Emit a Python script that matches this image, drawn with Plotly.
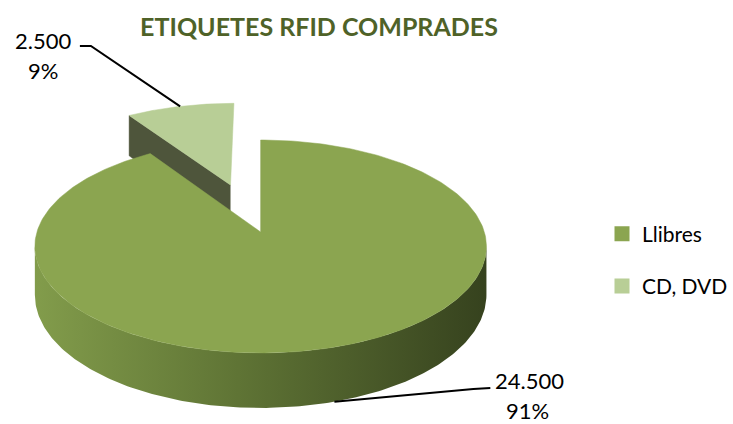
import numpy as np
import plotly.graph_objects as go

# ---- data ----
categories = ["Llibres", "CD, DVD"]
values = [24500, 2500]
explode = [0.0, 0.5]
top_colors = ["#8BA550", "#B8CE96"]
cut_colors = ["#3F4A25", "#4E553B"]
side_scale = [[0.0, "#829C4B"], [0.45, "#5F7435"], [1.0, "#36421E"]]
title_text = "ETIQUETES RFID COMPRADES"

# ---- geometry of the 3D pie (layout constants, pixels) ----
W, H_FIG = 733, 424
CX, CY = 261.0, 232.0     # apex of the pie on screen
A, B = 224.0, 104.5       # radii of the projected disc
K = 0.136                 # perspective factor
THICK = 47.5              # depth of the pie

total = float(sum(values))
fracs = [v / total for v in values]
starts = np.concatenate([[0.0], np.cumsum(fracs)[:-1]]) * 2 * np.pi
ends = np.cumsum(fracs) * 2 * np.pi


def proj(u, v, z=0.0):
    u = np.asarray(u, dtype=float)
    v = np.asarray(v, dtype=float)
    d = 1.0 + K * v
    return CX + A * u / d, CY - B * v / d + z * THICK / d


def offset(i):
    mid = (starts[i] + ends[i]) / 2
    return explode[i] * np.sin(mid), explode[i] * np.cos(mid)


fig = go.Figure()

# small slice(s): visible cut face on the start edge, then the top face
for i in range(len(values)):
    if explode[i] == 0:
        continue
    du, dv = offset(i)
    t0 = starts[i]
    uu = [du, du + np.sin(t0), du + np.sin(t0), du]
    vv = [dv, dv + np.cos(t0), dv + np.cos(t0), dv]
    zz = [0, 0, 1, 1]
    xs, ys = zip(*[proj(a, b, c) for a, b, c in zip(uu, vv, zz)])
    fig.add_trace(go.Scatter(x=list(xs), y=list(ys), fill="toself", mode="lines",
                             line=dict(width=0.5, color=cut_colors[i]),
                             fillcolor=cut_colors[i], hoverinfo="skip", showlegend=False))
    th = np.linspace(starts[i], ends[i], 80)
    u = np.concatenate([[du], du + np.sin(th), [du]])
    v = np.concatenate([[dv], dv + np.cos(th), [dv]])
    x, y = proj(u, v)
    fig.add_trace(go.Scatter(x=x, y=y, fill="toself", mode="lines",
                             line=dict(width=0.5, color=top_colors[i]),
                             fillcolor=top_colors[i], hoverinfo="skip", showlegend=False))

# big slice: outer side (front silhouette), then top
for i in range(len(values)):
    if explode[i] != 0:
        continue
    du, dv = offset(i)
    lo = max(starts[i], np.arccos(-K))
    hi = min(ends[i], 2 * np.pi - np.arccos(-K))
    th = np.linspace(lo, hi, 200)
    u = np.concatenate([np.sin(th), np.sin(th[::-1])]) + du
    v = np.concatenate([np.cos(th), np.cos(th[::-1])]) + dv
    z = np.concatenate([np.zeros_like(th), np.ones_like(th)])
    x, y = proj(u, v, z)
    fig.add_trace(go.Scatter(x=x, y=y, fill="toself", mode="lines",
                             line=dict(width=0), fillcolor=top_colors[i],
                             fillgradient=dict(type="horizontal", colorscale=side_scale),
                             hoverinfo="skip", showlegend=False))
    th = np.linspace(starts[i], ends[i], 300)
    u = np.concatenate([[du], du + np.sin(th), [du]])
    v = np.concatenate([[dv], dv + np.cos(th), [dv]])
    x, y = proj(u, v)
    fig.add_trace(go.Scatter(x=x, y=y, fill="toself", mode="lines",
                             line=dict(width=0.5, color=top_colors[i]),
                             fillcolor=top_colors[i], hoverinfo="skip", showlegend=False))

# ---- data labels with leader lines ----
label_pos = [((530, 380), (528, 410), [(491, 388), (474, 389)], True),
             ((43, 40), (43, 70), [(80, 46), (91, 46)], False)]
for i, (p1, p2, elbow, on_bottom) in enumerate(label_pos):
    du, dv = offset(i)
    mid = (starts[i] + ends[i]) / 2
    ex, ey = proj(du + np.sin(mid), dv + np.cos(mid), 1.0 if on_bottom else 0.0)
    lx = [elbow[0][0], elbow[1][0], float(ex)]
    ly = [elbow[0][1], elbow[1][1], float(ey)]
    fig.add_trace(go.Scatter(x=lx, y=ly, mode="lines", line=dict(color="black", width=2),
                             hoverinfo="skip", showlegend=False))
    val_txt = f"{values[i]:,}".replace(",", ".")
    pct_txt = f"{round(100 * fracs[i])}%"
    for (px, py), txt in ((p1, val_txt), (p2, pct_txt)):
        fig.add_annotation(x=px, y=py, text=txt, showarrow=False, xref="x", yref="y",
                           font=dict(family="Lato", size=22, color="black"))

# ---- legend entries ----
for i, name in enumerate(categories):
    fig.add_trace(go.Scatter(x=[None], y=[None], mode="markers", name=name,
                             legendgroup=name,
                             marker=dict(symbol="square", size=15, color=top_colors[i])))

fig.update_layout(
    width=W, height=H_FIG,
    margin=dict(l=0, r=0, t=0, b=0),
    paper_bgcolor="white", plot_bgcolor="white",
    xaxis=dict(range=[0, W], visible=False, fixedrange=True),
    yaxis=dict(range=[H_FIG, 0], visible=False, fixedrange=True),
    title=dict(text=f"<b>{title_text}</b>", x=319 / W, xanchor="center",
               y=1 - 27 / H_FIG, yanchor="middle",
               font=dict(family="Lato", size=25, color="#4F6228")),
    legend=dict(x=603 / W, xanchor="left", y=1 - 260 / H_FIG, yanchor="middle",
                font=dict(family="Lato", size=21, color="black"),
                tracegroupgap=22, bgcolor="rgba(0,0,0,0)"),
    showlegend=True,
)

fig.write_html("out.html", config={"displayModeBar": False},
               post_script="document.body.style.margin='0px';document.body.style.overflow='hidden';")
